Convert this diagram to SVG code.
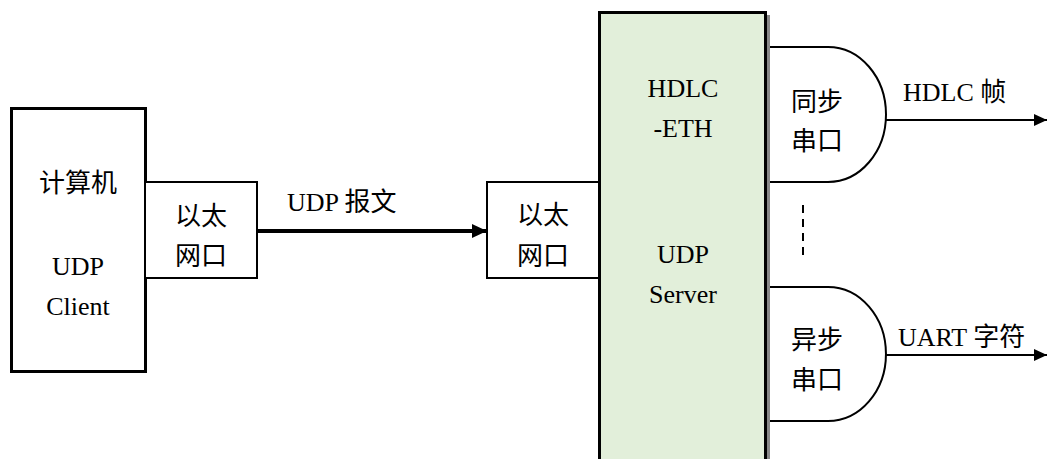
<svg xmlns="http://www.w3.org/2000/svg" width="1047" height="459" viewBox="0 0 1047 459">
<style>
.t{text-anchor:middle}
.box{fill:#fff;stroke:#000;stroke-width:2}
.thick{fill:#fff;stroke:#000;stroke-width:3}
</style>
<defs>
<marker id="ah" markerUnits="userSpaceOnUse" markerWidth="16" markerHeight="14" refX="15" refY="7" orient="auto">
<path d="M0,0 L15,7 L0,14 Z" fill="#000"/>
</marker>
<marker id="ah2" markerUnits="userSpaceOnUse" markerWidth="14" markerHeight="12" refX="13" refY="6" orient="auto">
<path d="M0,0 L13,6 L0,12 Z" fill="#000"/>
</marker>
</defs>
<g font-family="Liberation Serif, Noto Sans CJK SC, serif" font-size="26" fill="#000">
<g id="computer">
<rect class="thick" x="11.5" y="108.5" width="134" height="263"/>
<text class="t" x="78" y="192">计算机</text>
<text class="t" x="78" y="275">UDP</text>
<text class="t" x="78" y="315">Client</text>
</g>
<g id="eth-left">
<rect class="box" x="145" y="182" width="112" height="96"/>
<text class="t" x="201" y="225">以太</text>
<text class="t" x="201" y="265">网口</text>
</g>
<g id="server">
<rect x="767" y="15" width="3" height="444" fill="#888"/>
<rect x="599.5" y="12.5" width="166" height="450" fill="#e2efda" stroke="#000" stroke-width="3"/>
<text class="t" x="683" y="97">HDLC</text>
<text class="t" x="683" y="137">-ETH</text>
<text class="t" x="683" y="263">UDP</text>
<text class="t" x="683" y="303">Server</text>
</g>
<g id="eth-right">
<rect class="box" x="487" y="182" width="112" height="96"/>
<text class="t" x="543" y="224">以太</text>
<text class="t" x="543" y="265">网口</text>
</g>
<g id="sync">
<path d="M770,47 H828 A58,67.5 0 0 1 828,182 H770" fill="#fff" stroke="#000" stroke-width="2"/>
<text class="t" x="817" y="111">同步</text>
<text class="t" x="817" y="150">串口</text>
</g>
<g id="async">
<path d="M770,287 H828 A58,67 0 0 1 828,421 H770" fill="#fff" stroke="#000" stroke-width="2"/>
<text class="t" x="817" y="349">异步</text>
<text class="t" x="817" y="389">串口</text>
</g>
<g id="connectors">
<line x1="258" y1="231" x2="487" y2="231" stroke="#000" stroke-width="4" marker-end="url(#ah)"/>
<line x1="886" y1="120" x2="1047" y2="120" stroke="#000" stroke-width="2" marker-end="url(#ah2)"/>
<line x1="886" y1="355" x2="1047" y2="355" stroke="#000" stroke-width="2" marker-end="url(#ah2)"/>
<line x1="803" y1="205" x2="803" y2="256" stroke="#000" stroke-width="2" stroke-dasharray="8,6"/>
</g>
<g id="labels">
<text x="287" y="211">UDP 报文</text>
<text x="903" y="101">HDLC 帧</text>
<text x="898" y="346">UART 字符</text>
</g>
</g>
</svg>
